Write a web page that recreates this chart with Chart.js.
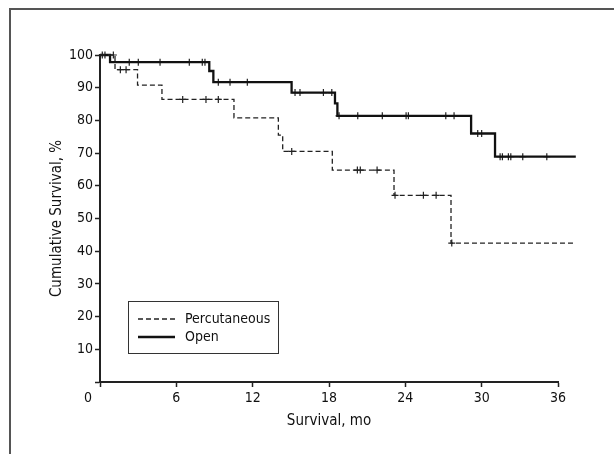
<!DOCTYPE html>
<html>
<head>
<meta charset="utf-8">
<script src="https://cdn.jsdelivr.net/npm/chart.js@4"></script>
<style>
  html, body { margin: 0; padding: 0; background: #fff; overflow: hidden; }
  #wrap { position: relative; width: 614px; height: 454px; }
  #frame {
    position: absolute; left: 9px; top: 8px; width: 700px; height: 600px;
    border: 2px solid #555; pointer-events: none;
  }
</style>
</head>
<body>
<div id="wrap">
  <canvas id="km" width="614" height="454"></canvas>
  <div id="frame"></div>
</div>
<script>
// Kaplan-Meier steps (months, % surviving)
const percTimes = [0, 1.18, 2.95, 4.87, 10.53, 14.02, 14.36, 18.26, 23.11, 27.59, 37.4];
const percSurvival = [100, 95.5, 90.8, 86.4, 80.8, 75.5, 70.5, 64.8, 57.1, 42.5, 42.5];
const percCensored = [1.05, 1.6, 2.05, 6.5, 8.33, 9.3, 15.07, 20.23, 20.46, 21.78, 23.19, 25.42, 26.42, 27.65];

const openTimes = [0, 0.79, 8.59, 8.91, 15.06, 18.47, 18.66, 29.17, 31.05, 37.4];
const openSurvival = [100, 97.8, 95.1, 91.7, 88.5, 85.2, 81.4, 76.0, 68.9, 68.9];
const openCensored = [0.18, 0.39, 2.3, 3.01, 4.72, 7.02, 8.04, 8.25, 9.3, 10.22, 11.58, 15.33, 15.72,
  17.56, 18.22, 18.79, 20.26, 22.19, 24.06, 24.24, 27.18, 27.83, 29.69, 30.0, 31.45, 31.63, 32.1,
  32.29, 33.23, 35.12];

const xTicks = [0, 6, 12, 18, 24, 30, 36];
const yTicks = [0, 10, 20, 30, 40, 50, 60, 70, 80, 90, 100];

const FONT = '"DejaVu Sans Condensed", "Liberation Sans", sans-serif';
const INK = '#111';

function toPoints(times, surv) {
    return times.map((t, i) => ({ x: t, y: surv[i] }));
}

// survival value of the step curve at time t
function stepValue(times, surv, t) {
    var v = surv[0];
    for (var i = 0; i < times.length; i++) {
        if (times[i] <= t) v = surv[i];
    }
    return v;
}

function censorPoints(cens, times, surv) {
    return cens.map(t => ({ x: t, y: stepValue(times, surv, t) }));
}

const boxLegend = {
    id: 'boxLegend',
    afterDraw(chart) {
        const ctx = chart.ctx;
        const items = chart.data.datasets.filter(d => d.label);
        ctx.save();
        ctx.fillStyle = '#fff';
        ctx.fillRect(128.5, 301.5, 150, 52);
        ctx.strokeStyle = '#333';
        ctx.lineWidth = 1;
        ctx.strokeRect(128.5, 301.5, 150, 52);
        items.forEach((d, i) => {
            const y = 319 + i * 18;
            ctx.beginPath();
            ctx.setLineDash(d.borderDash || []);
            ctx.strokeStyle = d.borderColor;
            ctx.lineWidth = d.borderWidth;
            ctx.moveTo(138, y);
            ctx.lineTo(175, y);
            ctx.stroke();
            ctx.setLineDash([]);
            ctx.fillStyle = INK;
            ctx.font = '14px ' + FONT;
            ctx.textBaseline = 'middle';
            ctx.textAlign = 'left';
            ctx.fillText(d.label, 185, y);
        });
        ctx.restore();
    }
};

new Chart(document.getElementById('km'), {
    type: 'line',
    data: {
        datasets: [
            {
                label: 'Percutaneous',
                data: toPoints(percTimes, percSurvival),
                stepped: true,
                borderColor: '#222',
                borderWidth: 1.3,
                borderDash: [5, 3],
                pointRadius: 0,
                fill: false,
                clip: false
            },
            {
                label: 'Open',
                data: toPoints(openTimes, openSurvival),
                stepped: true,
                borderColor: '#111',
                borderWidth: 2.3,
                pointRadius: 0,
                fill: false,
                clip: false
            },
            {
                data: censorPoints(percCensored, percTimes, percSurvival),
                showLine: false,
                pointStyle: 'cross',
                pointRadius: 3.5,
                pointBorderWidth: 1.2,
                pointBorderColor: '#222',
                clip: false
            },
            {
                data: censorPoints(openCensored, openTimes, openSurvival),
                showLine: false,
                pointStyle: 'cross',
                pointRadius: 3.5,
                pointBorderWidth: 1.2,
                pointBorderColor: '#222',
                clip: false
            }
        ]
    },
    options: {
        responsive: false,
        animation: false,
        layout: { padding: { left: 0, top: 55, right: 56, bottom: 0 } },
        plugins: {
            legend: { display: false },
            tooltip: { enabled: false }
        },
        scales: {
            x: {
                type: 'linear',
                min: 0,
                max: 36,
                afterBuildTicks: (s) => { s.ticks = xTicks.map(v => ({ value: v })); },
                afterFit: (s) => { s.height = 72; },
                ticks: {
                    color: INK,
                    padding: 3,
                    font: { family: FONT, size: 14 },
                    callback: (v) => v === 0 ? '0      ' : String(v)
                },
                grid: { drawOnChartArea: false, tickLength: 5, tickColor: '#222', tickWidth: 1.5 },
                border: { color: '#222', width: 2 },
                title: {
                    display: true,
                    text: 'Survival, mo',
                    color: INK,
                    font: { family: FONT, size: 15 },
                    padding: { top: 0, bottom: 24 }
                }
            },
            y: {
                min: 0,
                max: 100,
                afterBuildTicks: (s) => { s.ticks = yTicks.map(v => ({ value: v })); },
                afterFit: (s) => { s.width = 100; },
                ticks: {
                    color: INK,
                    padding: 2,
                    font: { family: FONT, size: 14 },
                    callback: (v) => v === 0 ? '' : String(v)
                },
                grid: { drawOnChartArea: false, tickLength: 5, tickColor: '#222', tickWidth: 1.5 },
                border: { color: '#222', width: 2 },
                title: {
                    display: true,
                    text: 'Cumulative Survival, %',
                    color: INK,
                    font: { family: FONT, size: 15 },
                    padding: { top: 48, bottom: 0 }
                }
            }
        }
    },
    plugins: [boxLegend]
});
</script>
</body>
</html>
